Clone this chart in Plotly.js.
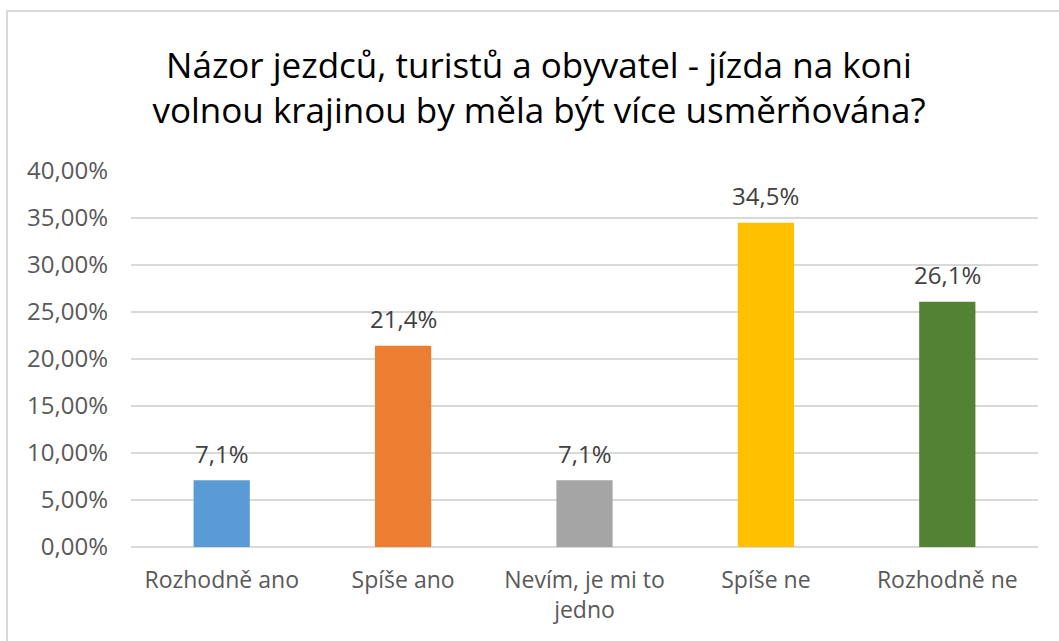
<!DOCTYPE html>
<html>
<head>
<meta charset="utf-8">
<script src="https://cdn.plot.ly/plotly-3.0.1.min.js"></script>
<style>
  html, body { margin: 0; padding: 0; background: #fff; }
  #wrap { position: relative; width: 1059px; height: 641px; overflow: hidden; }
  #chart { width: 1059px; height: 641px; }
  #frame { position: absolute; left: 6px; top: 10px; width: 1060px; height: 660px;
           border: 2px solid #d9d9d9; box-sizing: border-box; pointer-events: none; }
</style>
</head>
<body>
<div id="wrap">
  <div id="chart"></div>
  <div id="frame"></div>
</div>
<script>
const categories = ["Rozhodně ano", "Spíše ano", "Nevím, je mi to<br>jedno", "Spíše ne", "Rozhodně ne"];
const values = [0.071, 0.214, 0.071, 0.345, 0.261];
const labels = ["7,1%", "21,4%", "7,1%", "34,5%", "26,1%"];
const colors = ["#5B9BD5", "#ED7D31", "#A5A5A5", "#FFC000", "#548235"];
const tickVals = [0, 0.05, 0.10, 0.15, 0.20, 0.25, 0.30, 0.35, 0.40];

const font = "Open Sans, Noto Sans, sans-serif";

const trace = {
  type: "bar",
  x: categories,
  y: values,
  marker: { color: colors, line: { width: 0 } },
  hoverinfo: "none"
};

const annotations = categories.map((c, i) => ({
  x: c, y: values[i], xref: "x", yref: "y",
  text: labels[i], showarrow: false,
  yanchor: "middle", yshift: 27,
  font: { family: font, size: 24, color: "#404040" }
}));

const layout = {
  width: 1059, height: 641,
  margin: { l: 131, r: 21, t: 171, b: 94 },
  paper_bgcolor: "#fff", plot_bgcolor: "#fff",
  separators: ", ",
  bargap: 0.69,
  showlegend: false,
  title: {
    text: "Názor jezdců, turistů a obyvatel - jízda na koni<br>volnou krajinou by měla být více usměrňována?",
    font: { family: font, size: 35, color: "#000" },
    x: 0.509, xanchor: "center", xref: "container",
    y: 0.879, yref: "container", yanchor: "middle"
  },
  xaxis: {
    type: "category",
    showgrid: false, zeroline: false, showline: false,
    ticks: "",
    ticklabelstandoff: 17,
    tickfont: { family: font, size: 23, color: "#595959" }
  },
  yaxis: {
    range: [0, 0.40],
    tickvals: tickVals,
    tickformat: ".2%",
    showgrid: true, gridcolor: "#d9d9d9", gridwidth: 1.5,
    zeroline: true, zerolinecolor: "#d9d9d9", zerolinewidth: 1.5,
    showline: false, ticks: "",
    ticklabelstandoff: 22,
    tickfont: { family: font, size: 24, color: "#595959" }
  },
  annotations: annotations
};

Plotly.newPlot("chart", [trace], layout, { displayModeBar: false, staticPlot: true });
</script>
</body>
</html>
